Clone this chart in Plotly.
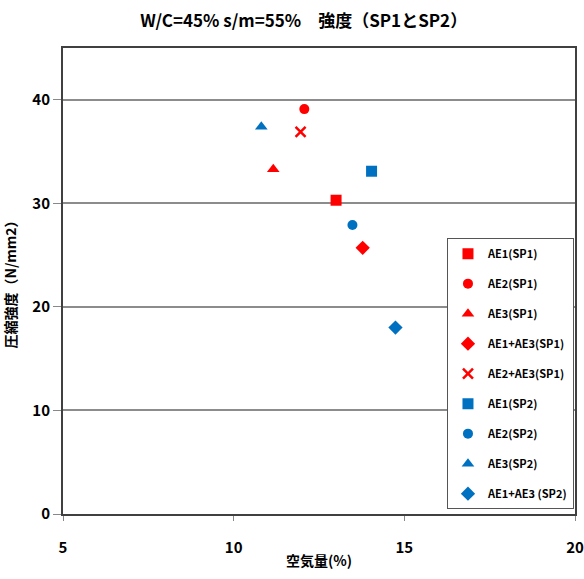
import plotly.graph_objects as go

names = ["AE1(SP1)", "AE2(SP1)", "AE3(SP1)", "AE1+AE3(SP1)", "AE2+AE3(SP1)",
         "AE1(SP2)", "AE2(SP2)", "AE3(SP2)", "AE1+AE3 (SP2)"]
air = [13.0, 12.07, 11.16, 13.78, 11.96, 14.04, 13.48, 10.81, 14.74]
strength = [30.3, 39.1, 33.3, 25.7, 36.9, 33.1, 27.9, 37.4, 18.0]
symbols = ["square", "circle", "triangle-up", "diamond", "x-thin",
           "square", "circle", "triangle-up", "diamond"]
colors = ["#FF0000"] * 5 + ["#0070C0"] * 4

FONT = "Noto Sans CJK JP, Noto Sans, sans-serif"

fig = go.Figure()
for i, n in enumerate(names):
    sym = symbols[i]
    marker = dict(symbol=sym, color=colors[i], size=11)
    if sym == "x-thin":
        marker.update(line=dict(color=colors[i], width=2.5), size=10)
    elif sym == "circle":
        marker.update(size=10)
    fig.add_trace(go.Scatter(x=[air[i]], y=[strength[i]], mode="markers", name=n,
                             marker=marker, legendgroup=f"g{i}"))

fig.update_layout(
    width=584, height=579,
    paper_bgcolor="white", plot_bgcolor="white",
    margin=dict(l=63, r=9, t=48, b=65),
    font=dict(family=FONT, color="black", size=14),
    title=dict(text="W/C=45% s/m=55%　強度（SP1とSP2）", x=0.52, xanchor="center",
               y=0.963, yanchor="middle",
               font=dict(size=17, family=FONT, weight="bold")),
    xaxis=dict(range=[5, 20], dtick=5, showgrid=False, zeroline=False, automargin=False,
               ticklabeloverflow="allow", ticklabelstandoff=14,
               showline=True, mirror=True, linecolor="#404040", linewidth=2,
               ticks="outside", ticklen=5, tickcolor="#888888",
               tickfont=dict(size=15, weight="bold"),
               title=dict(text="空気量(%)", standoff=0, font=dict(size=14, weight="bold"))),
    yaxis=dict(range=[0, 45], tickvals=[0, 10, 20, 30, 40], showgrid=True, automargin=False,
               gridcolor="#8c8c8c", gridwidth=2, zeroline=False,
               showline=True, mirror=True, linecolor="#404040", linewidth=2,
               ticks="outside", ticklen=8, tickcolor="#888888",
               tickfont=dict(size=15, weight="bold"),
               title=dict(text="圧縮強度（N/mm2）", standoff=12, font=dict(size=14, weight="bold"))),
    legend=dict(x=0.998, xanchor="right", y=0.592, yanchor="top",
                bgcolor="white", bordercolor="#555555", borderwidth=1,
                font=dict(size=11, weight="bold"), tracegroupgap=11,
                traceorder="grouped", itemwidth=30),
    showlegend=True,
)

fig.write_html("out.html")
